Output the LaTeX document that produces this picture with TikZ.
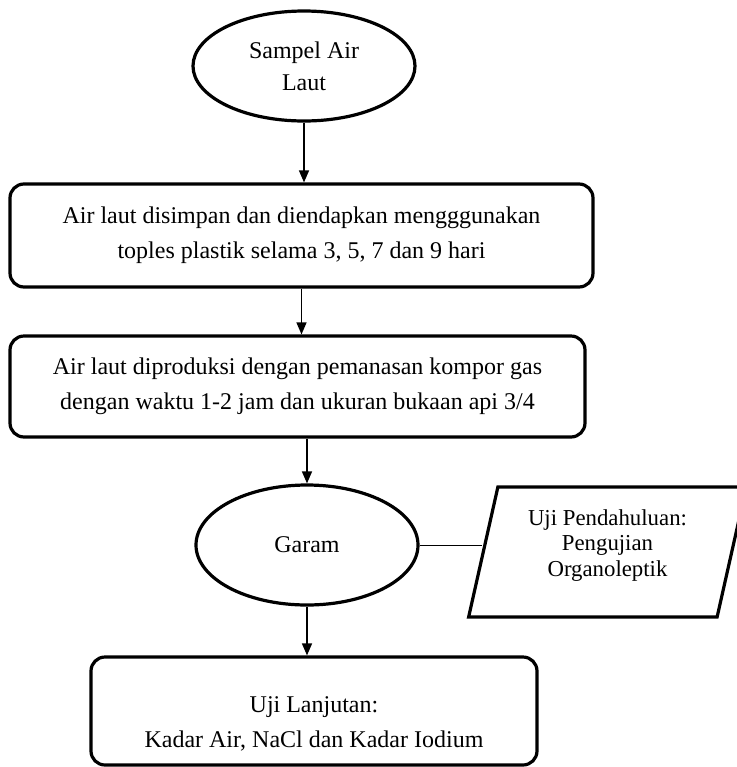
\documentclass[tikz,border=0pt]{standalone}
\usepackage{fontspec}
\setmainfont{Liberation Serif}
\usetikzlibrary{positioning, shapes.geometric, arrows.meta}

\begin{document}
\begin{tikzpicture}[x=0.5pt, y=-0.5pt,
		terminal/.style={draw, ellipse, line width=1.6pt, inner sep=0, align=center, font=\fontsize{12}{16}\selectfont},
		proses/.style={draw, rectangle, rounded corners=7pt, line width=1.6pt, align=center, font=\fontsize{12}{17.5}\selectfont},
		panah/.style={-{Triangle[width=5pt, length=6pt]}, line width=0.7pt}]
		\useasboundingbox (0,0) rectangle (736,767);
		\node [terminal, minimum width=111pt, minimum height=55pt] (sampel) at (304,66) {Sampel Air\\Laut};
		\node [proses, minimum width=291.5pt, minimum height=51.5pt] (simpan) at (301.5,235.5) {Air laut disimpan dan diendapkan mengggunakan\\toples plastik selama 3, 5, 7 dan 9 hari};
		\node [proses, minimum width=287.5pt, minimum height=50.5pt] (produksi) at (297.5,386.5) {Air laut diproduksi dengan pemanasan kompor gas\\dengan waktu 1-2 jam dan ukuran bukaan api 3/4};
		\node [terminal, minimum width=111pt, minimum height=60pt] (garam) at (307,545) {Garam};
		\node [draw, trapezium, trapezium left angle=76, trapezium right angle=104, trapezium stretches=true, line width=1.6pt, inner sep=0, align=center, font=\fontsize{11.4}{12.8}\selectfont, text depth=9pt, minimum width=139.5pt, minimum height=65pt] (pendahuluan) at (607.5,552) {Uji Pendahuluan:\\Pengujian\\Organoleptik};
		\node [proses, minimum width=223pt, minimum height=54pt, text height=38pt, text depth=2pt] (lanjutan) at (314,711) {Uji Lanjutan:\\Kadar Air, NaCl dan Kadar Iodium};
		\draw[panah] (sampel.south) -- (sampel.south |- simpan.north);
		\draw[panah] (simpan.south) -- (simpan.south |- produksi.north);
		\draw[panah] (garam.north |- produksi.south) -- (garam.north);
		\draw[panah] (garam.south) -- (garam.south |- lanjutan.north);
		\draw[line width=0.5pt] (garam.east) -- (garam.east -| pendahuluan.west);
	\end{tikzpicture}
\end{document}
